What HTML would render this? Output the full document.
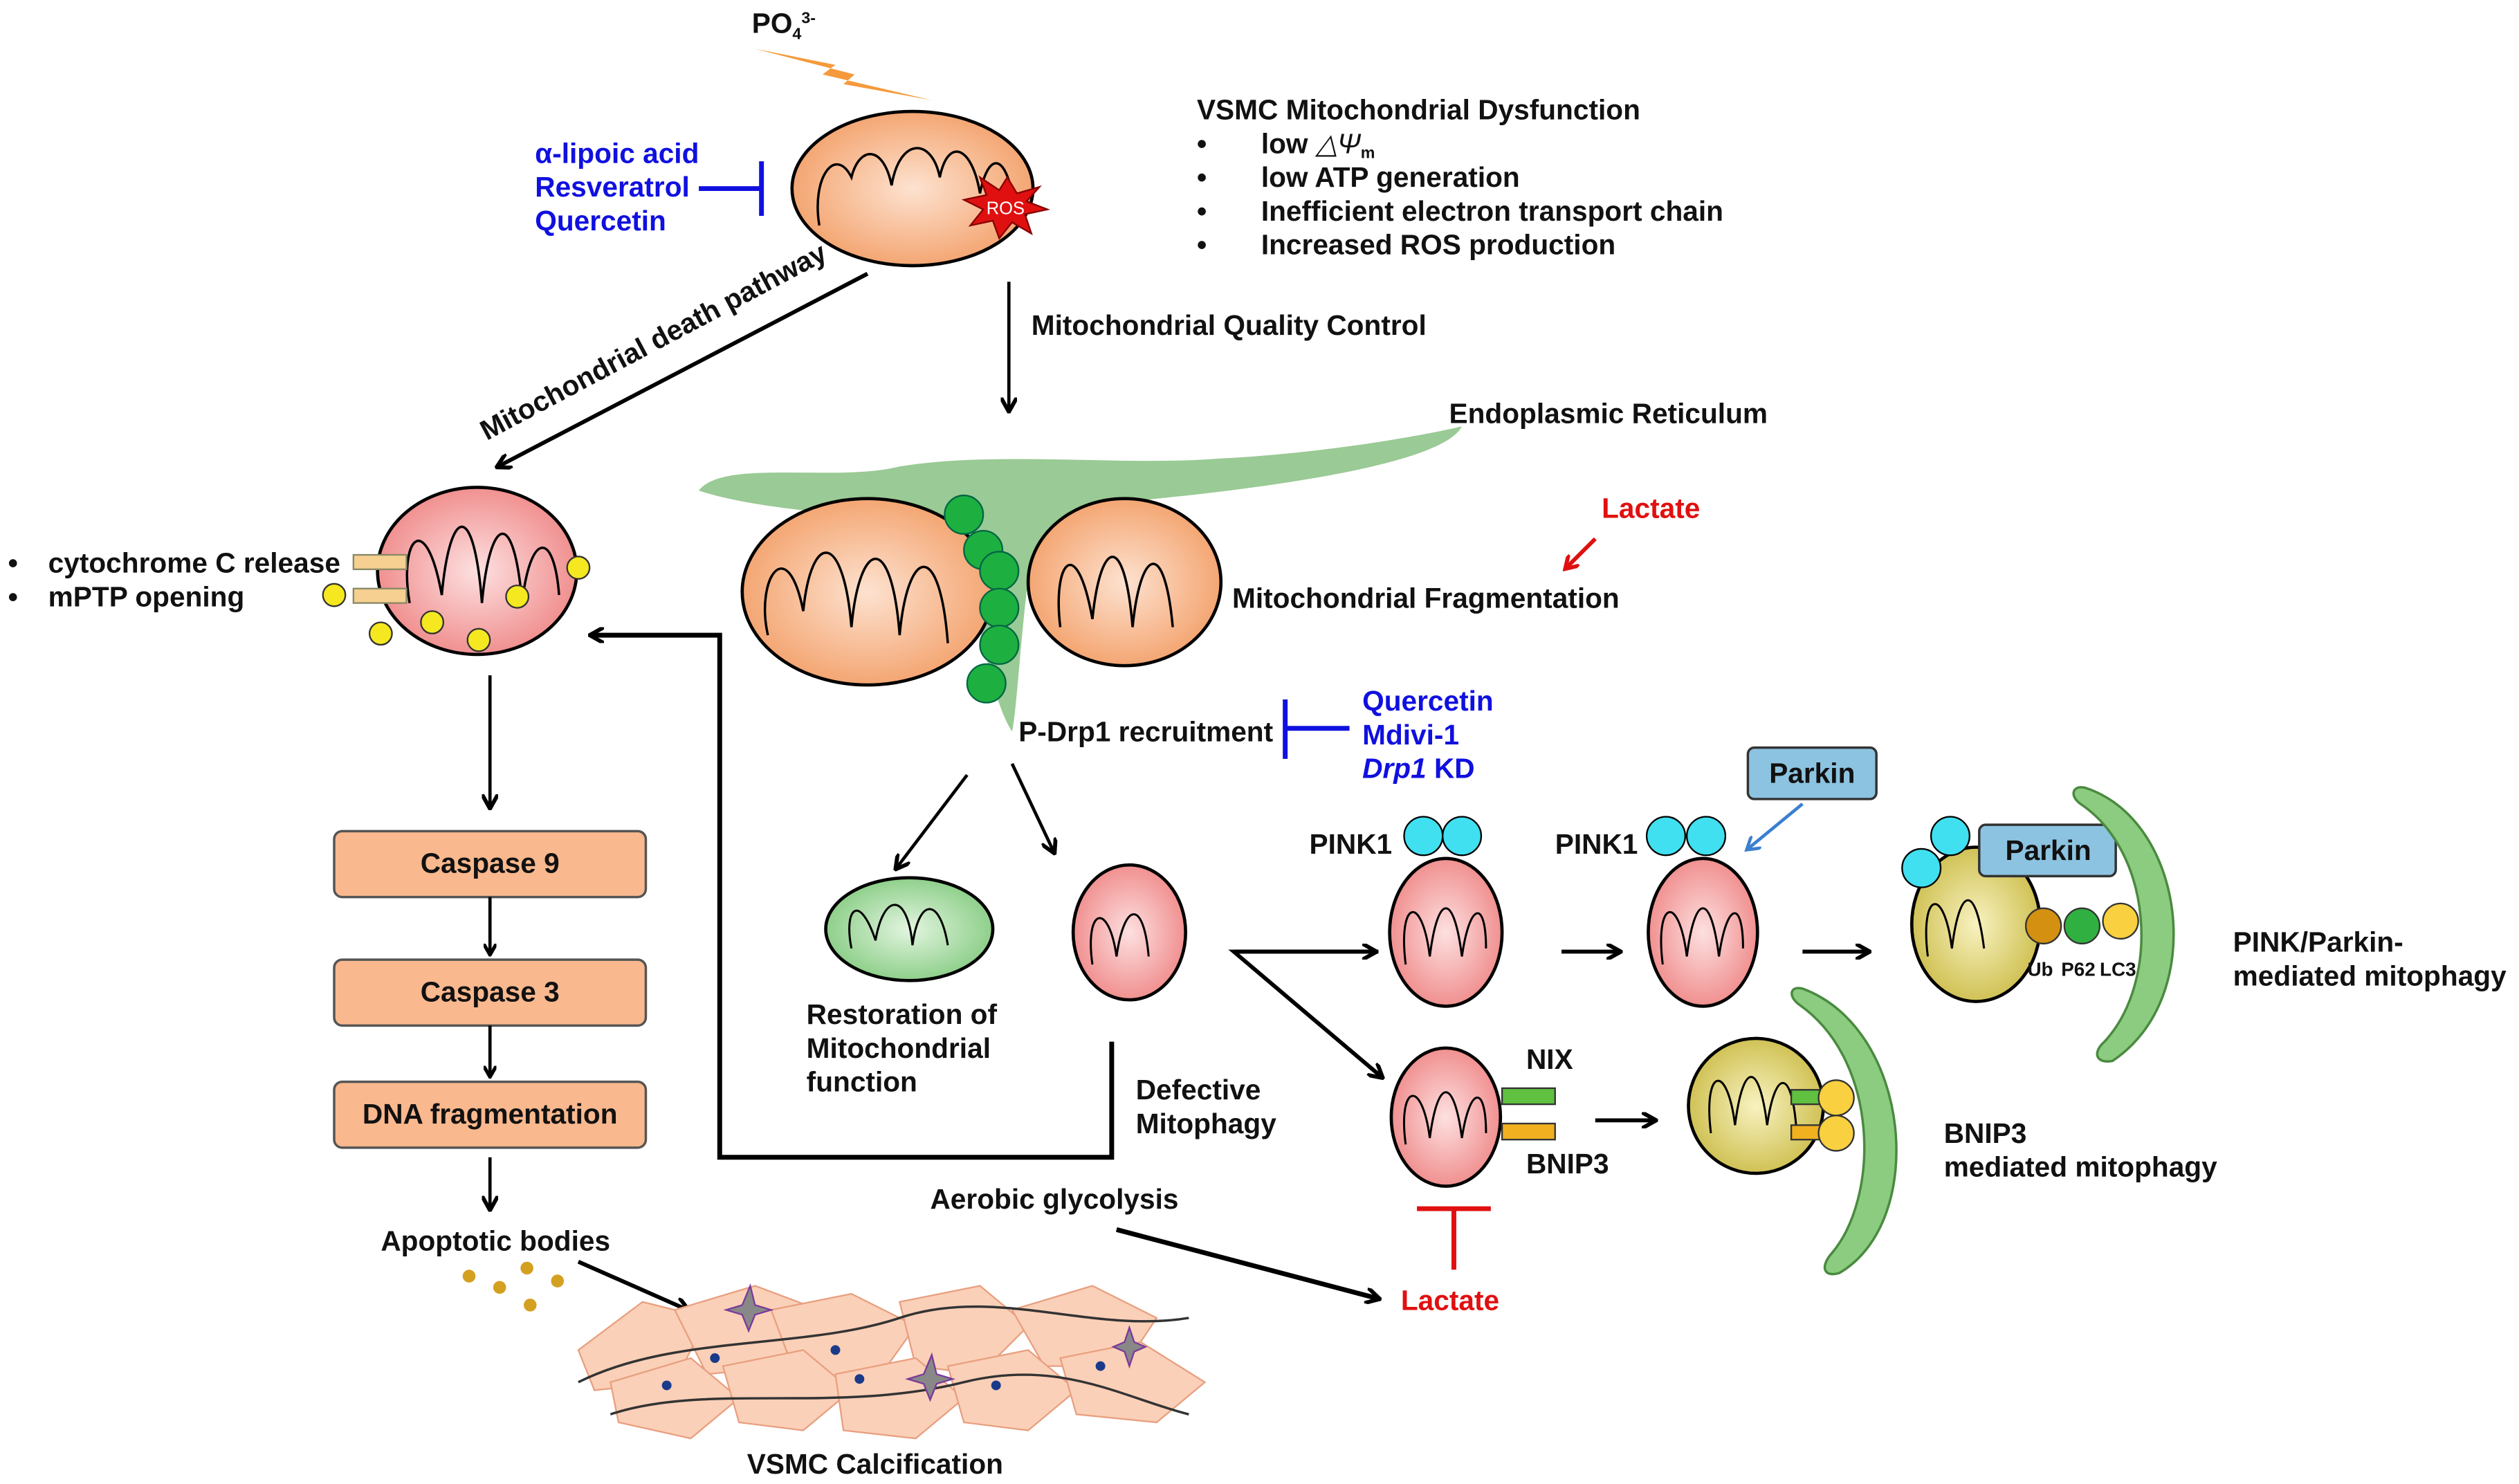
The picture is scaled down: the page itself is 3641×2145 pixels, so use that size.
<!DOCTYPE html>
<html><head><meta charset="utf-8"><style>
html,body{margin:0;padding:0;background:#fff;}
svg{display:block;}
text{font-family:"Liberation Sans",Arial,sans-serif;font-weight:bold;font-size:17.5px;fill:#111;}
.b{fill:#1010e0}.r{fill:#e01010}
</style></head><body>
<svg width="3641" height="2145" viewBox="0 0 1568 923" xmlns="http://www.w3.org/2000/svg">
<defs>
<marker id="ah" markerWidth="8" markerHeight="8" refX="6" refY="4" orient="auto" markerUnits="userSpaceOnUse"><path d="M0,0 L7,4 L0,8" fill="none" stroke="#000" stroke-width="2.2"/></marker>
<marker id="ahb" markerWidth="10" markerHeight="10" refX="8" refY="5" orient="auto" markerUnits="userSpaceOnUse"><path d="M0,0 L9,5 L0,10" fill="none" stroke="#000" stroke-width="2.5"/></marker>
<marker id="ahr" markerWidth="10" markerHeight="10" refX="7" refY="5" orient="auto" markerUnits="userSpaceOnUse"><path d="M0,0 L8,5 L0,10" fill="none" stroke="#e01010" stroke-width="2.5"/></marker>
<marker id="ahbl" markerWidth="10" markerHeight="10" refX="7" refY="5" orient="auto" markerUnits="userSpaceOnUse"><path d="M0,0 L8,5 L0,10" fill="none" stroke="#3a80d0" stroke-width="2"/></marker>
<radialGradient id="or" cx="50%" cy="50%" r="60%"><stop offset="0" stop-color="#fde2d0"/><stop offset="1" stop-color="#f29a60"/></radialGradient>
<radialGradient id="pk" cx="50%" cy="50%" r="60%"><stop offset="0" stop-color="#fde0e0"/><stop offset="1" stop-color="#ee8080"/></radialGradient>
<radialGradient id="gr" cx="50%" cy="50%" r="60%"><stop offset="0" stop-color="#e2f5df"/><stop offset="1" stop-color="#7ec87a"/></radialGradient>
<radialGradient id="yl" cx="50%" cy="50%" r="60%"><stop offset="0" stop-color="#f8f2c0"/><stop offset="1" stop-color="#c8b840"/></radialGradient>
</defs>

<text x="468" y="20">PO<tspan font-size="10" dy="4">4</tspan><tspan font-size="10" dy="-10">3-</tspan></text>
<path d="M470,30 L520,40 L512,46 L580,62 L525,52 L532,46 Z" fill="#f59a3c"/>

<ellipse cx="568" cy="117" rx="75" ry="48" fill="url(#or)" stroke="#000" stroke-width="2"/>
<path d="M510,140 C505,110 520,90 530,110 C535,90 550,90 555,115 C560,85 580,85 585,110 C590,85 605,90 610,120 C615,95 625,95 630,120" fill="none" stroke="#000" stroke-width="1.5"/>
<polygon points="627,110 633,120 647,116 639,125 652,130 638,133 642,145 630,138 622,148 618,137 604,140 612,130 600,124 614,121 610,110 622,118" fill="#e01010" stroke="#800" stroke-width="1"/>
<text x="614" y="133" style="font-size:11px;fill:#fff;font-weight:normal">ROS</text>

<text x="333" y="101" class="b">α-lipoic acid</text>
<text x="333" y="122" class="b">Resveratrol</text>
<text x="333" y="143" class="b">Quercetin</text>
<line x1="435" y1="117" x2="474" y2="117" stroke="#1010e0" stroke-width="3"/>
<line x1="474" y1="100" x2="474" y2="134" stroke="#1010e0" stroke-width="3"/>

<text x="745" y="74">VSMC Mitochondrial Dysfunction</text>
<text x="745" y="95">•</text><text x="785" y="95">low <tspan font-style="italic" font-weight="normal">△Ψ</tspan><tspan font-size="10" dy="3">m</tspan></text>
<text x="745" y="116">•</text><text x="785" y="116">low ATP generation</text>
<text x="745" y="137">•</text><text x="785" y="137">Inefficient electron transport chain</text>
<text x="745" y="158">•</text><text x="785" y="158">Increased ROS production</text>

<line x1="540" y1="170" x2="310" y2="290" stroke="#000" stroke-width="2.5" marker-end="url(#ahb)"/>
<text transform="translate(303,274) rotate(-28)">Mitochondrial death pathway</text>

<line x1="628" y1="175" x2="628" y2="255" stroke="#000" stroke-width="2" marker-end="url(#ahb)"/>
<text x="642" y="208">Mitochondrial Quality Control</text>

<path d="M435,305 C450,285 520,300 560,290 C620,280 700,290 760,285 C820,282 880,272 910,265 C900,285 820,300 720,310 C680,315 650,320 640,360 C635,400 633,440 630,455 C620,440 610,400 600,330 C560,320 480,320 435,305 Z" fill="#8fc48a" stroke="none" opacity="0.9"/>
<text x="902" y="263">Endoplasmic Reticulum</text>

<ellipse cx="540" cy="368" rx="78" ry="58" fill="url(#or)" stroke="#000" stroke-width="2"/>
<path d="M478,395 C470,360 490,330 500,380 C505,330 525,330 530,390 C535,335 555,330 560,395 C565,340 585,335 590,400" fill="none" stroke="#000" stroke-width="1.5"/>
<ellipse cx="700" cy="362" rx="60" ry="52" fill="url(#or)" stroke="#000" stroke-width="2"/>
<path d="M660,390 C655,350 670,330 680,385 C685,335 700,330 705,390 C710,340 725,335 730,390" fill="none" stroke="#000" stroke-width="1.5"/>
<g fill="#1db040" stroke="#064" stroke-width="1">
<circle cx="600" cy="320" r="12"/><circle cx="612" cy="342" r="12"/><circle cx="622" cy="355" r="12"/>
<circle cx="622" cy="378" r="12"/><circle cx="622" cy="401" r="12"/><circle cx="614" cy="425" r="12"/></g>

<text x="997" y="322" class="r">Lactate</text>
<line x1="993" y1="335" x2="975" y2="353" stroke="#e01010" stroke-width="2.5" marker-end="url(#ahr)"/>
<text x="767" y="378">Mitochondrial Fragmentation</text>

<text x="634" y="461">P-Drp1 recruitment</text>
<line x1="800" y1="453" x2="840" y2="453" stroke="#1010e0" stroke-width="3"/>
<line x1="800" y1="435" x2="800" y2="472" stroke="#1010e0" stroke-width="3"/>
<text x="848" y="442" class="b">Quercetin</text>
<text x="848" y="463" class="b">Mdivi-1</text>
<text x="848" y="484" class="b"><tspan font-style="italic">Drp1</tspan> KD</text>

<line x1="602" y1="482" x2="558" y2="540" stroke="#000" stroke-width="2" marker-end="url(#ahb)"/>
<line x1="630" y1="475" x2="656" y2="530" stroke="#000" stroke-width="2" marker-end="url(#ahb)"/>

<ellipse cx="566" cy="578" rx="52" ry="32" fill="url(#gr)" stroke="#000" stroke-width="2"/>
<path d="M530,590 C525,565 535,555 545,585 C550,555 565,555 568,588 C572,558 585,558 590,588" fill="none" stroke="#000" stroke-width="1.3"/>
<ellipse cx="703" cy="580" rx="35" ry="42" fill="url(#pk)" stroke="#000" stroke-width="2"/>
<path d="M680,600 C675,565 690,560 695,595 C700,560 712,560 715,595" fill="none" stroke="#000" stroke-width="1.3"/>

<text x="502" y="637">Restoration of</text>
<text x="502" y="658">Mitochondrial</text>
<text x="502" y="679">function</text>
<text x="707" y="684">Defective</text>
<text x="707" y="705">Mitophagy</text>

<polyline points="692,648 692,720 448,720 448,395 368,395" fill="none" stroke="#000" stroke-width="3" marker-end="url(#ahb)"/>

<ellipse cx="297" cy="355" rx="62" ry="52" fill="url(#pk)" stroke="#000" stroke-width="2"/>
<path d="M255,375 C248,335 265,315 275,370 C280,315 295,310 300,375 C305,320 320,315 325,375 C330,330 345,330 348,370" fill="none" stroke="#000" stroke-width="1.5"/>
<rect x="220" y="345" width="33" height="9" fill="#f5d090" stroke="#886" stroke-width="1"/>
<rect x="220" y="366" width="33" height="9" fill="#f5d090" stroke="#886" stroke-width="1"/>
<g fill="#f5e820" stroke="#333" stroke-width="1">
<circle cx="360" cy="353" r="7"/><circle cx="208" cy="370" r="7"/><circle cx="322" cy="371" r="7"/>
<circle cx="237" cy="394" r="7"/><circle cx="269" cy="387" r="7"/><circle cx="298" cy="398" r="7"/></g>
<text x="5" y="356">•</text><text x="30" y="356">cytochrome C release</text>
<text x="5" y="377">•</text><text x="30" y="377">mPTP opening</text>

<line x1="305" y1="420" x2="305" y2="502" stroke="#000" stroke-width="2" marker-end="url(#ahb)"/>
<g fill="#f9b88e" stroke="#555" stroke-width="1.5">
<rect x="208" y="517" width="194" height="41" rx="5"/>
<rect x="208" y="597" width="194" height="41" rx="5"/>
<rect x="208" y="673" width="194" height="41" rx="5"/></g>
<text x="305" y="543" text-anchor="middle">Caspase 9</text>
<text x="305" y="623" text-anchor="middle">Caspase 3</text>
<text x="305" y="699" text-anchor="middle">DNA fragmentation</text>
<line x1="305" y1="558" x2="305" y2="593" stroke="#000" stroke-width="2" marker-end="url(#ah)"/>
<line x1="305" y1="638" x2="305" y2="669" stroke="#000" stroke-width="2" marker-end="url(#ah)"/>
<line x1="305" y1="720" x2="305" y2="752" stroke="#000" stroke-width="2" marker-end="url(#ahb)"/>
<text x="237" y="778">Apoptotic bodies</text>
<g fill="#d4a020"><circle cx="292" cy="794" r="4"/><circle cx="311" cy="801" r="4"/><circle cx="328" cy="789" r="4"/><circle cx="347" cy="797" r="4"/><circle cx="330" cy="812" r="4"/></g>
<line x1="360" y1="785" x2="428" y2="815" stroke="#000" stroke-width="2.5" marker-end="url(#ahb)"/>

<g fill="#fbd0b8" stroke="#e8a080" stroke-width="1">
<path d="M360,840 L400,810 L440,820 L420,860 L370,865 Z"/>
<path d="M420,815 L470,800 L510,815 L490,850 L440,855 Z"/>
<path d="M480,815 L530,805 L570,825 L545,860 L495,855 Z"/>
<path d="M560,810 L610,800 L640,825 L610,855 L570,850 Z"/>
<path d="M630,815 L680,800 L720,820 L700,850 L650,850 Z"/>
<path d="M380,860 L430,845 L460,870 L430,895 L385,885 Z"/>
<path d="M450,850 L500,840 L530,865 L500,890 L460,885 Z"/>
<path d="M520,855 L570,845 L600,870 L570,895 L525,890 Z"/>
<path d="M590,850 L640,840 L670,865 L640,890 L600,885 Z"/>
<path d="M660,845 L710,835 L750,860 L720,885 L670,880 Z"/>
</g>
<path d="M360,860 C420,830 500,840 560,820 C620,800 680,830 740,820" fill="none" stroke="#333" stroke-width="1.5"/>
<path d="M380,880 C440,860 520,880 600,860 C660,845 700,870 740,880" fill="none" stroke="#333" stroke-width="1.5"/>
<g fill="#888" stroke="#7a3a9a"><polygon points="462,812 467,800 470,812 480,815 470,818 466,828 462,818 452,815"/><polygon points="575,855 580,843 583,855 593,858 583,861 579,871 575,861 565,858"/><polygon points="700,835 703,826 706,835 713,838 706,841 703,850 700,841 693,838"/></g>
<g fill="#1a3a8a"><circle cx="445" cy="845" r="3"/><circle cx="520" cy="840" r="3"/><circle cx="535" cy="858" r="3"/><circle cx="685" cy="850" r="3"/><circle cx="620" cy="862" r="3"/><circle cx="415" cy="862" r="3"/></g>
<text x="465" y="917">VSMC Calcification</text>

<text x="579" y="752">Aerobic glycolysis</text>
<line x1="695" y1="765" x2="858" y2="808" stroke="#000" stroke-width="3" marker-end="url(#ahb)"/>
<text x="872" y="815" class="r">Lactate</text>
<line x1="905" y1="752" x2="905" y2="790" stroke="#e01010" stroke-width="3"/>
<line x1="882" y1="752" x2="928" y2="752" stroke="#e01010" stroke-width="3"/>

<polyline points="858,592 768,592 860,670" fill="none" stroke="#000" stroke-width="2.5" marker-end="url(#ahb)"/>
<line x1="768" y1="592" x2="856" y2="592" stroke="#000" stroke-width="2.5" marker-end="url(#ahb)"/>

<ellipse cx="900" cy="580" rx="35" ry="46" fill="url(#pk)" stroke="#000" stroke-width="2"/>
<path d="M875,600 C870,560 885,555 890,595 C895,555 905,555 910,595 C915,560 925,560 925,590" fill="none" stroke="#000" stroke-width="1.3"/>
<circle cx="886" cy="520" r="12" fill="#40e0f0" stroke="#000"/><circle cx="910" cy="520" r="12" fill="#40e0f0" stroke="#000"/>
<text x="815" y="531">PINK1</text>
<line x1="972" y1="592" x2="1008" y2="592" stroke="#000" stroke-width="2.5" marker-end="url(#ahb)"/>

<ellipse cx="1060" cy="580" rx="34" ry="46" fill="url(#pk)" stroke="#000" stroke-width="2"/>
<path d="M1035,600 C1030,560 1045,555 1050,595 C1055,555 1065,555 1070,595 C1075,560 1085,560 1085,590" fill="none" stroke="#000" stroke-width="1.3"/>
<circle cx="1037" cy="520" r="12" fill="#40e0f0" stroke="#000"/><circle cx="1062" cy="520" r="12" fill="#40e0f0" stroke="#000"/>
<text x="968" y="531">PINK1</text>
<rect x="1088" y="465" width="80" height="32" rx="4" fill="#8cc3e0" stroke="#333" stroke-width="1.5"/>
<text x="1128" y="487" text-anchor="middle">Parkin</text>
<line x1="1122" y1="500" x2="1088" y2="528" stroke="#3a80d0" stroke-width="2" marker-end="url(#ahbl)"/>
<line x1="1122" y1="592" x2="1163" y2="592" stroke="#000" stroke-width="2.5" marker-end="url(#ahb)"/>

<ellipse cx="1230" cy="575" rx="40" ry="48" fill="url(#yl)" stroke="#000" stroke-width="2"/>
<path d="M1200,595 C1195,555 1210,550 1215,590 C1220,550 1230,550 1235,590" fill="none" stroke="#000" stroke-width="1.3"/>
<circle cx="1196" cy="540" r="12" fill="#40e0f0" stroke="#000"/><circle cx="1214" cy="520" r="12" fill="#40e0f0" stroke="#000"/>
<rect x="1232" y="513" width="85" height="32" rx="4" fill="#8cc3e0" stroke="#333" stroke-width="1.5"/>
<text x="1275" y="535" text-anchor="middle">Parkin</text>
<circle cx="1272" cy="576" r="11" fill="#d49010" stroke="#333"/>
<circle cx="1296" cy="576" r="11" fill="#30b040" stroke="#333"/>
<circle cx="1320" cy="573" r="11" fill="#f8d040" stroke="#333"/>
<text x="1262" y="607" style="font-size:12px">Ub</text><text x="1283" y="607" style="font-size:12px">P62</text><text x="1307" y="607" style="font-size:12px">LC3</text>
<path d="M1298,490 C1360,510 1375,620 1315,660 C1305,662 1302,655 1310,648 C1345,610 1340,530 1295,500 C1288,495 1290,488 1298,490 Z" fill="#8ccc80" stroke="#4a8a40" stroke-width="1.5"/>
<text x="1390" y="592">PINK/Parkin-</text>
<text x="1390" y="613">mediated mitophagy</text>

<ellipse cx="900" cy="695" rx="34" ry="43" fill="url(#pk)" stroke="#000" stroke-width="2"/>
<path d="M875,712 C870,675 885,670 890,708 C895,670 905,670 910,708 C915,675 925,675 925,705" fill="none" stroke="#000" stroke-width="1.3"/>
<rect x="935" y="677" width="33" height="10" fill="#60c040" stroke="#333"/>
<rect x="935" y="699" width="33" height="10" fill="#f0b020" stroke="#333"/>
<text x="950" y="665">NIX</text>
<text x="950" y="730">BNIP3</text>
<line x1="993" y1="697" x2="1030" y2="697" stroke="#000" stroke-width="2.5" marker-end="url(#ahb)"/>

<ellipse cx="1093" cy="688" rx="42" ry="42" fill="url(#yl)" stroke="#000" stroke-width="2"/>
<path d="M1065,705 C1060,665 1075,660 1080,700 C1085,660 1095,660 1100,700 C1105,665 1115,665 1118,700" fill="none" stroke="#000" stroke-width="1.3"/>
<rect x="1115" y="678" width="20" height="9" fill="#60c040" stroke="#333"/>
<rect x="1115" y="700" width="20" height="9" fill="#f0b020" stroke="#333"/>
<circle cx="1143" cy="683" r="11" fill="#f8d040" stroke="#333"/><circle cx="1143" cy="705" r="11" fill="#f8d040" stroke="#333"/>
<path d="M1122,615 C1190,640 1200,760 1145,792 C1135,795 1133,788 1140,780 C1170,745 1170,660 1120,625 C1113,620 1114,613 1122,615 Z" fill="#8ccc80" stroke="#4a8a40" stroke-width="1.5"/>
<text x="1210" y="711">BNIP3</text>
<text x="1210" y="732">mediated mitophagy</text>
</svg>
</body></html>
